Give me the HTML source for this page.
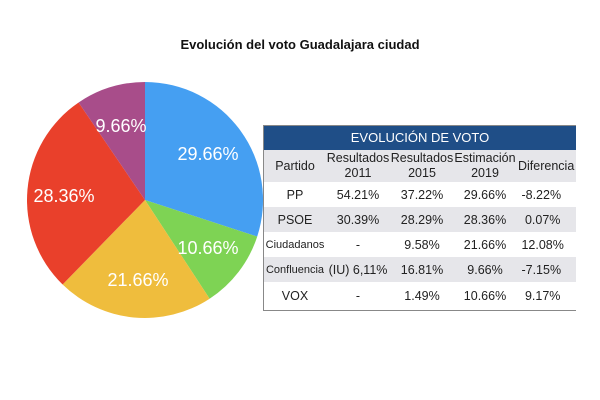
<!DOCTYPE html>
<html><head><meta charset="utf-8"><style>
body{margin:0;width:600px;height:400px;background:#fff;position:relative;overflow:hidden;font-family:"Liberation Sans",sans-serif}
.t{position:absolute;top:37px;left:0;width:600px;text-align:center;font-weight:bold;font-size:13px;color:#111}
.tb{position:absolute;left:263px;top:125px;width:312px;border:1px solid #888;border-right:none;overflow:hidden}
.h{background:#1f4e87;color:#fff;text-align:center;font-size:13px;height:24px;line-height:24px}
.r{display:flex;height:25px;align-items:center;font-size:12.5px;color:#222}
.r div{text-align:center;flex:none}
.g{background:#e6e6ea}
.c1{width:62px}.c2{width:64px}.c3{width:64px}.c4{width:62px}.c5{width:64px;text-align:left!important;padding-left:2px}
</style></head><body>
<div class="t">Evolución del voto Guadalajara ciudad</div>
<svg width="600" height="400" style="position:absolute;left:0;top:0">
<g transform="translate(145,200)">
<path d="M0,0 L0,-118 A118,118 0 0,1 112.2,36.6 Z" fill="#459ff2"/>
<path d="M0,0 L112.2,36.6 A118,118 0 0,1 64.6,98.7 Z" fill="#7ed354"/>
<path d="M0,0 L64.6,98.7 A118,118 0 0,1 -82.4,84.5 Z" fill="#efbd3d"/>
<path d="M0,0 L-82.4,84.5 A118,118 0 0,1 -66.4,-97.5 Z" fill="#e9402b"/>
<path d="M0,0 L-66.4,-97.5 A118,118 0 0,1 0,-118 Z" fill="#a84d8a"/>
</g>
<g fill="#fff" font-family="Liberation Sans,sans-serif" font-size="18" text-anchor="middle">
<text x="208" y="160">29.66%</text>
<text x="208" y="254">10.66%</text>
<text x="138" y="286">21.66%</text>
<text x="64" y="202">28.36%</text>
<text x="121" y="132">9.66%</text>
</g>
</svg>
<div class="tb">
<div class="h">EVOLUCIÓN DE VOTO</div>
<div class="r g" style="height:32px;line-height:15px"><div class="c1">Partido</div><div class="c2">Resultados<br>2011</div><div class="c3">Resultados<br>2015</div><div class="c4">Estimación<br>2019</div><div class="c5">Diferencia</div></div>
<div class="r"><div class="c1">PP</div><div class="c2">54.21%</div><div class="c3">37.22%</div><div class="c4">29.66%</div><div class="c5">&nbsp;-8.22%</div></div>
<div class="r g"><div class="c1">PSOE</div><div class="c2">30.39%</div><div class="c3">28.29%</div><div class="c4">28.36%</div><div class="c5">&nbsp;&nbsp;0.07%</div></div>
<div class="r"><div class="c1" style="font-size:11px">Ciudadanos</div><div class="c2">-</div><div class="c3">9.58%</div><div class="c4">21.66%</div><div class="c5">&nbsp;12.08%</div></div>
<div class="r g"><div class="c1" style="font-size:11px">Confluencia</div><div class="c2">(IU) 6,11%</div><div class="c3">16.81%</div><div class="c4">9.66%</div><div class="c5">&nbsp;-7.15%</div></div>
<div class="r" style="height:28px"><div class="c1">VOX</div><div class="c2">-</div><div class="c3">1.49%</div><div class="c4">10.66%</div><div class="c5">&nbsp;&nbsp;9.17%</div></div>
</div>
</body></html>
